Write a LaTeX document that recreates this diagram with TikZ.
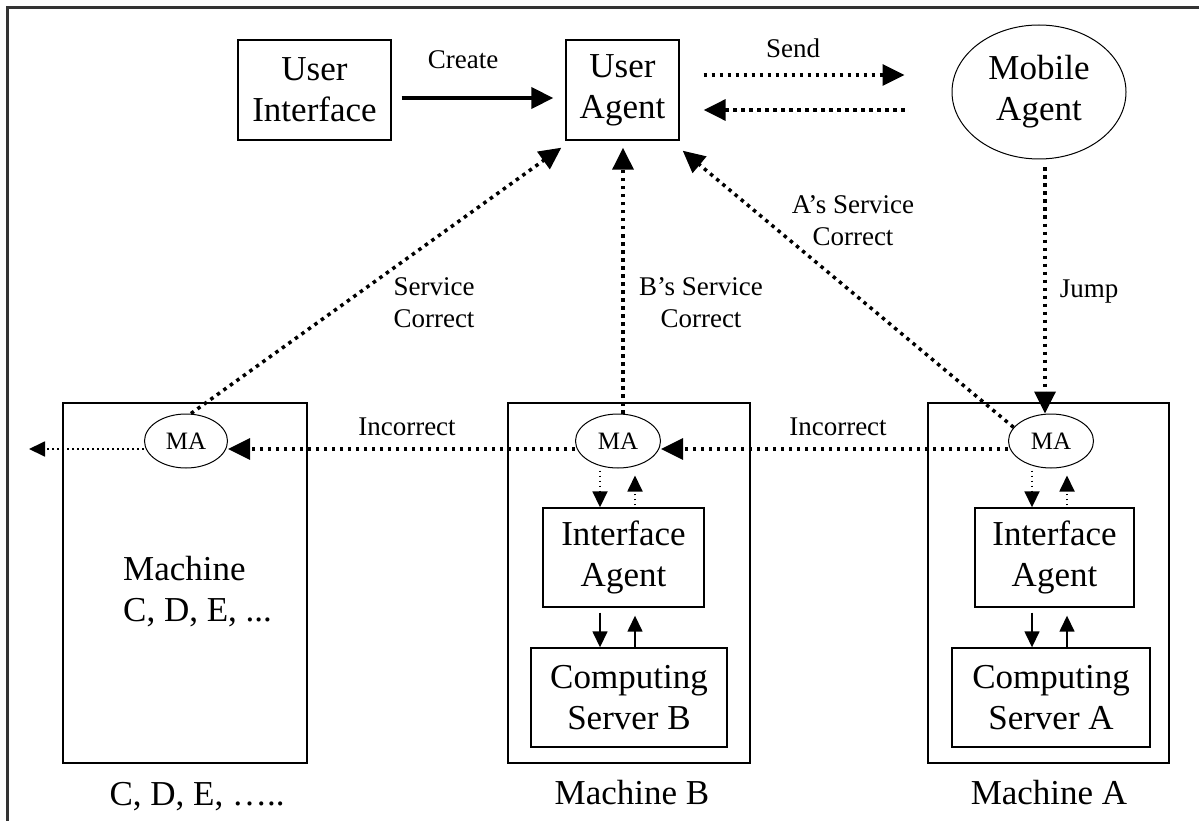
\documentclass[tikz,border=0pt]{standalone}
\usepackage{fontspec}
\setmainfont{Liberation Serif}
\usetikzlibrary{arrows.meta,shapes.geometric}
\begin{document}
\begin{tikzpicture}[x=1pt,y=-1pt,
  big/.style={font=\fontsize{35}{41}\selectfont, align=center, inner sep=0pt},
  lab/.style={font=\fontsize{27}{32}\selectfont, align=center, inner sep=0pt},
  box/.style={draw, line width=1.4pt, big},
  mbox/.style={draw, line width=1.4pt},
  ell/.style={draw, ellipse, line width=1pt, fill=white, inner sep=0pt},
  maell/.style={ell, font=\fontsize{25}{28}\selectfont},
  bigtip/.style={-{Triangle[length=22pt,width=21pt]}},
  smalltip/.style={-{Triangle[length=16pt,width=15pt]}},
  solidthick/.style={line width=4pt, bigtip},
  dotthick/.style={line width=3.5pt, dash pattern=on 3.5pt off 4.5pt, bigtip},
  dotthin/.style={line width=1.8pt, dash pattern=on 1.8pt off 3.2pt, smalltip},
  solidthin/.style={line width=1.5pt, smalltip},
  frame/.style={draw=black!80, line width=3pt}
]
\useasboundingbox (0,0) rectangle (1199,821);
\clip (0,0) rectangle (1199,821);
\draw[frame] (7,8) rectangle (1230,850);

% top row
\node[box, minimum width=153pt, minimum height=100pt] (ui) at (314.5,90) {User\\Interface};
\node[box, minimum width=113pt, minimum height=100pt] (ua) at (622.5,90) {User\\Agent};
\node[ell, big, minimum width=174pt, minimum height=134pt] (mob) at (1039,92) {Mobile\\Agent};

% machines
\node[mbox, minimum width=244pt, minimum height=360pt] (mC) at (185,583) {};
\node[mbox, minimum width=242pt, minimum height=360pt] (mB) at (629,583) {};
\node[mbox, minimum width=241pt, minimum height=360pt] (mA) at (1048.5,583) {};

\node[maell, minimum width=83pt, minimum height=54pt] (maC) at (186,441) {MA};
\node[maell, minimum width=85pt, minimum height=54pt] (maB) at (618,441) {MA};
\node[maell, minimum width=85pt, minimum height=54pt] (maA) at (1051,441) {MA};

\node[box, minimum width=161pt, minimum height=99pt] (iaB) at (623.5,557.5) {Interface\\Agent};
\node[box, minimum width=196pt, minimum height=99pt] (csB) at (629,697.5) {Computing\\Server B};
\node[box, minimum width=159pt, minimum height=99pt] (iaA) at (1054.5,557.5) {Interface\\Agent};
\node[box, minimum width=198pt, minimum height=99pt] (csA) at (1051,697.5) {Computing\\Server A};

\node[big, align=left, anchor=west] (mCtext) at (123,592) {Machine\\C, D, E, ...};

\node[big] (labC) at (197,797) {C, D, E, …..};
\node[big] (labB) at (632,793) {Machine B};
\node[big] (labA) at (1049,793) {Machine A};

% labels
\node[lab] (lcreate) at (463,60) {Create};
\node[lab] (lsend) at (793,48) {Send};
\node[lab] (lA) at (853,221) {A’s Service\\Correct};
\node[lab] (lB) at (701,303) {B’s Service\\Correct};
\node[lab] (lC) at (434,303) {Service\\Correct};
\node[lab, anchor=base] (ljump) at (1089,297) {Jump};
\node[lab] (linc1) at (407,427) {Incorrect};
\node[lab] (linc2) at (838,427) {Incorrect};

% connectors top
\draw[solidthick] ([xshift=10pt,yshift=-8pt]ui.east) -- ([xshift=-12pt,yshift=-8pt]ua.west);
\draw[dotthick] ([xshift=24pt,yshift=15pt]ua.east) -- ([xshift=-47pt,yshift=17pt]mob.west);
\draw[dotthick] ([xshift=-47pt,yshift=-18pt]mob.west) -- ([xshift=24pt,yshift=-20pt]ua.east);
\draw[dotthick] ([xshift=6pt,yshift=-8pt]mob.south) -- ([xshift=-6pt]maA.north);

\draw[dotthick] (maA.160) -- ([xshift=3pt,yshift=-10pt]ua.south east);
\draw[dotthick] ([xshift=5pt]maB.north) -- ([xshift=0.5pt,yshift=-7pt]ua.south);
\draw[dotthick] ([xshift=5pt]maC.north) -- ([xshift=-4pt,yshift=-7pt]ua.south west);

\draw[dotthick] ([yshift=-8pt]maA.west) -- ([yshift=-8pt]maB.east);
\draw[dotthick] ([yshift=-8pt]maB.west) -- ([yshift=-8pt]maC.east);
\coordinate (offL) at (29,449);
\draw[dotthin] ([yshift=-8pt]maC.west) -- (offL);

% machine A internals
\draw[dotthin] ([xshift=-19pt,yshift=-2pt]maA.south) -- ([xshift=-22.5pt]iaA.north);
\draw[dotthin] ([xshift=12.5pt,yshift=2pt]iaA.north) -- ([xshift=16pt,yshift=-7pt]maA.south);
\draw[solidthin] ([xshift=-22.5pt,yshift=-5pt]iaA.south) -- ([xshift=-19pt]csA.north);
\draw[solidthin] ([xshift=16pt]csA.north) -- ([xshift=12.5pt,yshift=-8pt]iaA.south);

% machine B internals
\draw[dotthin] ([xshift=-18pt,yshift=-2pt]maB.south) -- ([xshift=-23.5pt]iaB.north);
\draw[dotthin] ([xshift=11.5pt,yshift=2pt]iaB.north) -- ([xshift=17pt,yshift=-7pt]maB.south);
\draw[solidthin] ([xshift=-23.5pt,yshift=-5pt]iaB.south) -- ([xshift=-29pt]csB.north);
\draw[solidthin] ([xshift=6pt]csB.north) -- ([xshift=11.5pt,yshift=-8pt]iaB.south);
\end{tikzpicture}
\end{document}
